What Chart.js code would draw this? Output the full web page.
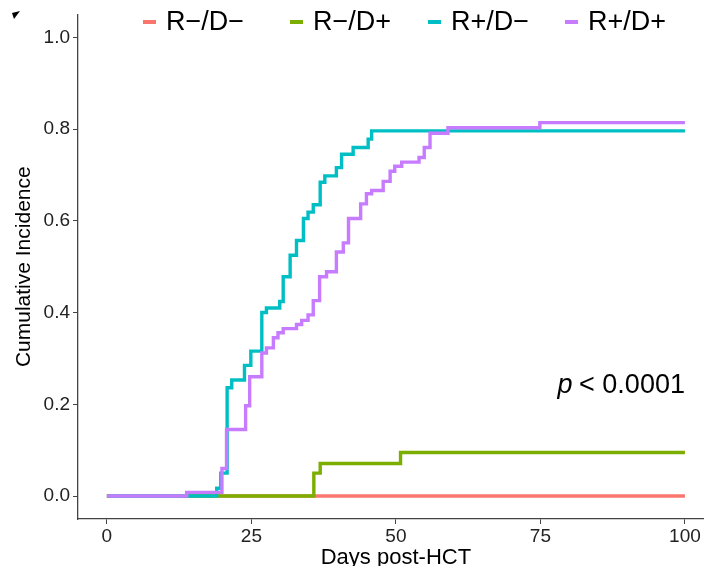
<!DOCTYPE html>
<html lang="en">
<head>
    <meta charset="UTF-8">
    <title>Cumulative Incidence</title>
    <script src="https://cdn.jsdelivr.net/npm/chart.js"></script>
    <style>
        body {
            margin: 0;
            padding: 0;
            background: #fff;
        }

        .wrap {
            width: 704px;
            height: 566px;
            position: relative;
        }
    </style>
</head>

<body>
<div class="wrap">
    <canvas id="cifChart"></canvas>
</div>

<script>
    // Series labels and colours (ggplot default hues)
    const groups = ['R−/D−', 'R−/D+', 'R+/D−', 'R+/D+'];
    const colors = ['#F8766D', '#7CAE00', '#00BFC4', '#C77CFF'];

    // Step curves: day of each jump and the value after it
    const daysRnDn = [0, 100];
    const valsRnDn = [0, 0];

    const daysRnDp = [0, 35.8, 36.9, 50.8, 100];
    const valsRnDp = [0, 0.05, 0.071, 0.095, 0.095];

    const daysRpDn = [0, 19.0, 19.7, 20.8, 21.6, 23.8, 24.9, 26.8, 27.6, 29.9, 30.5, 31.7, 32.8,
        34.0, 34.8, 35.7, 36.9, 37.7, 39.7, 40.6, 42.6, 45.2, 45.8, 100];
    const valsRpDn = [0, 0.017, 0.05, 0.236, 0.253, 0.285, 0.316, 0.40, 0.41, 0.424, 0.478, 0.525, 0.557,
        0.605, 0.619, 0.635, 0.684, 0.698, 0.716, 0.745, 0.76, 0.778, 0.796, 0.796];

    const daysRpDp = [0, 13.8, 19.9, 20.7, 24.0, 24.7, 26.8, 27.6, 28.8, 29.6, 30.5, 32.8, 33.7, 34.8,
        35.7, 36.8, 38.0, 39.7, 40.9, 41.8, 43.9, 44.9, 45.8, 47.8, 49.0, 49.8, 51.0, 54.0, 54.9,
        55.9, 59.0, 74.9, 100];
    const valsRpDp = [0, 0.008, 0.06, 0.145, 0.197, 0.26, 0.312, 0.323, 0.345, 0.356, 0.365, 0.374, 0.383, 0.395,
        0.426, 0.478, 0.489, 0.532, 0.552, 0.605, 0.637, 0.659, 0.666, 0.686, 0.708, 0.719, 0.728, 0.738, 0.76,
        0.791, 0.803, 0.814, 0.814];

    // Tick labels
    const xTicks = [0, 25, 50, 75, 100];
    const yTicks = [0, 0.2, 0.4, 0.6, 0.8, 1.0];

    const xTitle = 'Days post-HCT';
    const yTitle = 'Cumulative Incidence';
    const pText = '< 0.0001';

    const FONT = "'Liberation Sans', Arial, sans-serif";

    function toPoints(days, vals) {
        return days.map((d, i) => ({x: d, y: vals[i]}));
    }

    const allDays = [daysRnDn, daysRnDp, daysRpDn, daysRpDp];
    const allVals = [valsRnDn, valsRnDp, valsRpDn, valsRpDp];

    const datasets = groups.map((g, i) => ({
        label: g,
        data: toPoints(allDays[i], allVals[i]),
        borderColor: colors[i],
        backgroundColor: colors[i],
        borderWidth: 3.4,
        pointRadius: 0,
        stepped: 'before',
        borderJoinStyle: 'miter',
        borderCapStyle: 'butt',
        fill: false,
        order: groups.length - i   // last group drawn on top, like ggplot
    }));

    // Legend on top, x title, p-value text, little corner mark
    const extras = {
        id: 'extras',
        afterDraw(chart) {
            const ctx = chart.ctx;
            const xs = chart.scales.x;
            const ys = chart.scales.y;
            ctx.save();

            // legend
            const starts = [143, 290, 428, 565];
            ctx.font = '27px ' + FONT;
            ctx.textBaseline = 'middle';
            ctx.textAlign = 'left';
            groups.forEach((g, i) => {
                ctx.fillStyle = colors[i];
                ctx.fillRect(starts[i], 20, 13, 4);
                ctx.fillStyle = '#000';
                ctx.fillText(g, starts[i] + 23, 23);
            });

            // x title, centred on the 0-100 range like the panel
            ctx.textAlign = 'center';
            ctx.font = '22px ' + FONT;
            ctx.fillText(xTitle, xs.getPixelForValue(50), 558);

            // p value
            const px = xs.getPixelForValue(100);
            const py = ys.getPixelForValue(0.24);
            ctx.textAlign = 'right';
            ctx.font = '27px ' + FONT;
            ctx.fillText(pText, px, py);
            const w = ctx.measureText(pText + ' ').width;
            ctx.font = 'italic 27px ' + FONT;
            ctx.fillText('p', px - w + 1, py);

            // corner mark
            ctx.beginPath();
            ctx.moveTo(12, 13);
            ctx.lineTo(20, 11);
            ctx.lineTo(14, 19);
            ctx.closePath();
            ctx.fillStyle = '#000';
            ctx.fill();

            ctx.restore();
        }
    };

    const ctx = document.getElementById('cifChart').getContext('2d');
    new Chart(ctx, {
        type: 'line',
        data: {datasets: datasets},
        options: {
            responsive: true,
            maintainAspectRatio: false,
            animation: false,
            layout: {padding: {top: 11, right: 0, left: 0, bottom: 0}},
            plugins: {
                legend: {display: false},
                tooltip: {enabled: false}
            },
            scales: {
                x: {
                    type: 'linear',
                    min: -5,
                    max: 103.3,
                    afterBuildTicks: s => { s.ticks = xTicks.map(v => ({value: v})); },
                    afterFit: s => { s.height = 47; },
                    grid: {display: true, drawOnChartArea: false, drawTicks: true, tickLength: 5, color: '#444'},
                    border: {display: true, color: '#444', width: 1.3},
                    ticks: {
                        padding: 1,
                        color: '#222',
                        font: {family: FONT, size: 19},
                        callback: v => String(v)
                    }
                },
                y: {
                    type: 'linear',
                    min: -0.05,
                    max: 1.05,
                    afterBuildTicks: s => { s.ticks = yTicks.map(v => ({value: v})); },
                    afterFit: s => { s.width = 78; },
                    grid: {display: true, drawOnChartArea: false, drawTicks: true, tickLength: 5, color: '#444'},
                    border: {display: true, color: '#444', width: 1.3},
                    ticks: {
                        padding: 3,
                        color: '#222',
                        font: {family: FONT, size: 19},
                        callback: v => v.toFixed(1)
                    },
                    title: {
                        display: true,
                        text: yTitle,
                        color: '#000',
                        font: {family: FONT, size: 21},
                        padding: {top: 12, bottom: 0}
                    }
                }
            }
        },
        plugins: [extras]
    });
</script>
</body>
</html>
